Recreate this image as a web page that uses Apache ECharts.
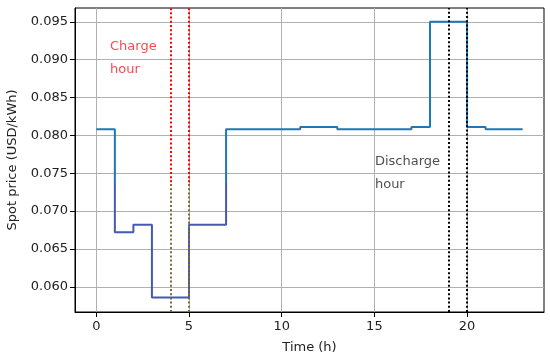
<!DOCTYPE html>
<html>
<head>
<meta charset="utf-8">
<script src="https://cdn.jsdelivr.net/npm/echarts@6/dist/echarts.min.js"></script>
<style>html,body{margin:0;padding:0;background:#fff}#c{width:550px;height:357px}</style>
</head>
<body>
<div id="c"></div>
<script>
// Data
const hours = [0,1,2,3,4,5,6,7,8,9,10,11,12,13,14,15,16,17,18,19,20,21,22,23];
const price = [0.0808,0.0672,0.0682,0.0586,0.0586,0.0682,0.0682,0.0808,0.0808,0.0808,0.0808,0.0811,0.0811,0.0808,0.0808,0.0808,0.0808,0.0811,0.0950,0.0950,0.0811,0.0808,0.0808,0.0808];
const xTicks = [0,5,10,15,20];
const yTicks = [0.060,0.065,0.070,0.075,0.080,0.085,0.090,0.095];
const chargeHours = [4,5];
const dischargeHours = [19,20];
const X_MIN = -1.15, X_MAX = 24.15;
const Y_MIN = 0.05668, Y_MAX = 0.09682;
const COLOR_SPLIT = 0.0738;
const chargeLabelPos = [0.74, 0.0902];
const dischargeLabelPos = [15.03, 0.07507];

const FONT = 'DejaVu Sans';
const chart = echarts.init(document.getElementById('c'));

const markData = [];
chargeHours.forEach(h => {
  markData.push([{coord:[h, COLOR_SPLIT], lineStyle:{color:'#ff0000'}}, {coord:[h, Y_MAX]}]);
  markData.push([{coord:[h, Y_MIN], lineStyle:{color:'#7d6a3a'}}, {coord:[h, COLOR_SPLIT]}]);
});
dischargeHours.forEach(h => {
  markData.push([{coord:[h, Y_MIN], lineStyle:{color:'#000000'}}, {coord:[h, Y_MAX]}]);
});

const maxV = Math.max(...price), minV = Math.min(...price);
const off = (maxV - COLOR_SPLIT) / (maxV - minV);
const lineColor = new echarts.graphic.LinearGradient(0, 0, 0, 1, [
  {offset: 0, color: '#1f77b4'}, {offset: off, color: '#1f77b4'},
  {offset: off, color: '#4559b3'}, {offset: 1, color: '#4559b3'}
]);

chart.setOption({
  animation: false,
  grid: {left: 75, right: 6, top: 8, bottom: 45, show: true, borderColor: '#000', borderWidth: 1,
    outerBoundsMode: 'none', containLabel: false},
  xAxis: {
    type: 'value', min: X_MIN, max: X_MAX,
    name: 'Time (h)', nameLocation: 'middle', nameGap: 29,
    nameTextStyle: {fontFamily: FONT, fontSize: 13, color: '#222'},
    axisLine: {show: true, onZero: false, lineStyle: {color: '#000', width: 1}},
    axisTick: {show: true, length: 5, customValues: xTicks, lineStyle: {color: '#000'}},
    axisLabel: {customValues: xTicks, fontFamily: FONT, fontSize: 13, color: '#222', margin: 8},
    splitLine: {show: true, lineStyle: {color: '#b0b0b0', width: 1}}
  },
  yAxis: {
    type: 'value', min: Y_MIN, max: Y_MAX,
    name: 'Spot price (USD/kWh)', nameLocation: 'middle', nameGap: 56,
    nameTextStyle: {fontFamily: FONT, fontSize: 13, color: '#222'},
    axisLine: {show: true, onZero: false, lineStyle: {color: '#000', width: 1}},
    axisTick: {show: true, length: 5, customValues: yTicks, lineStyle: {color: '#000'}},
    axisLabel: {customValues: yTicks, fontFamily: FONT, fontSize: 13, color: '#222', margin: 7,
      formatter: v => v.toFixed(3)},
    splitLine: {show: true, lineStyle: {color: '#b0b0b0', width: 1}}
  },
  series: [
    {
      type: 'line', step: 'end', symbol: 'none',
      data: hours.map((h, i) => [h, price[i]]),
      lineStyle: {width: 2, color: lineColor},
      z: 2,
      markLine: {
        silent: true, symbol: 'none', label: {show: false},
        lineStyle: {type: [2, 2.2], width: 2},
        data: markData
      }
    },
    {
      type: 'scatter', symbolSize: 0, silent: true,
      data: [
        {value: chargeLabelPos, label: {formatter: 'Charge\nhour', color: '#f01c24'}},
        {value: dischargeLabelPos, label: {formatter: 'Discharge\nhour', color: '#222'}}
      ],
      label: {show: true, position: [0, 0], align: 'left', verticalAlign: 'middle',
        fontFamily: FONT, fontSize: 13, lineHeight: 23}
    }
  ]
});
</script>
</body>
</html>
